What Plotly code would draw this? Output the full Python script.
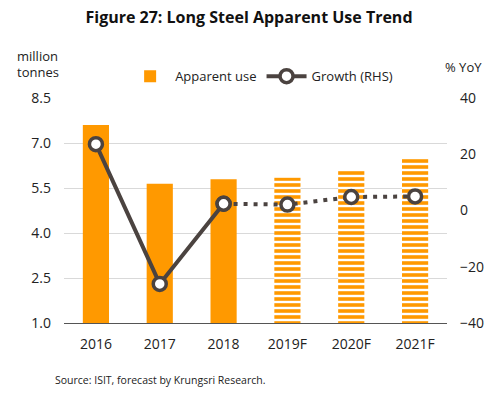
import plotly.graph_objects as go

categories = ["2016", "2017", "2018", "2019F", "2020F", "2021F"]
apparent_use = [7.6, 5.64, 5.79, 5.84, 6.08, 6.48]
growth = [23.6, -26.1, 2.4, 2.1, 4.8, 5.0]
forecast = [False, False, False, True, True, True]
left_ticks = [1.0, 2.5, 4.0, 5.5, 7.0, 8.5]
right_ticks = [-40, -20, 0, 20, 40]

ORANGE = "#FF9900"
DARK = "#4B4340"
FONT = "Open Sans"

fig = go.Figure()
fig.add_trace(go.Bar(
    x=categories, y=apparent_use, name="Apparent use",
    width=0.41,
    marker=dict(
        color=ORANGE, line=dict(width=0),
        pattern=dict(shape=["-" if f else "" for f in forecast],
                     fgcolor=ORANGE, bgcolor="white", fgopacity=1,
                     size=6, solidity=0.6, fillmode="replace"),
    ),
    yaxis="y",
))
actual_idx = [i for i, f in enumerate(forecast) if not f]
fc_idx = [actual_idx[-1]] + [i for i, f in enumerate(forecast) if f]
fig.add_trace(go.Scatter(
    x=[categories[i] for i in actual_idx], y=[growth[i] for i in actual_idx],
    name="Growth (RHS)", mode="lines+markers", yaxis="y2",
    line=dict(color=DARK, width=4),
    marker=dict(size=13, color="white", line=dict(color=DARK, width=3.5)),
))
fig.add_trace(go.Scatter(
    x=[categories[i] for i in fc_idx], y=[growth[i] for i in fc_idx],
    name="Growth (RHS)", mode="lines+markers", yaxis="y2", showlegend=False,
    line=dict(color=DARK, width=4, dash="4px,6px"),
    marker=dict(size=13, color="white", line=dict(color=DARK, width=3.5)),
))

fig.update_layout(
    width=498, height=395,
    margin=dict(l=64, r=51, t=98, b=72, autoexpand=False),
    paper_bgcolor="white", plot_bgcolor="white",
    font=dict(family=FONT, size=14, color="#222222"),
    title=dict(text="<b>Figure 27: Long Steel Apparent Use Trend</b>",
               x=0.5, xanchor="center", y=0.955, yanchor="middle",
               font=dict(size=16, color="#111111")),
    showlegend=True,
    legend=dict(orientation="h", x=0.516, xanchor="center", y=1.03, yanchor="bottom",
                font=dict(size=13), bgcolor="rgba(0,0,0,0)", traceorder="normal",
                itemwidth=40),
    bargap=0.5,
    xaxis=dict(type="category", showgrid=False, showline=True, linecolor="#555555",
               linewidth=1, ticks="", tickfont=dict(size=14), ticklabelstandoff=8),
    yaxis=dict(range=[1.0, 8.5], tickvals=left_ticks, ticktext=[f"{v:.1f}" for v in left_ticks],
               showgrid=True, gridcolor="#D9D9D9", gridwidth=1, zeroline=False,
               showline=False, tickfont=dict(size=14), ticks="", ticklabelstandoff=12),
    yaxis2=dict(range=[-40, 40], tickvals=right_ticks, overlaying="y", side="right",
                showgrid=False, zeroline=False, showline=False, tickfont=dict(size=14),
                ticks="", ticklabelstandoff=12),
)

fig.add_annotation(text="million", xref="paper", yref="paper",
                   x=-0.068, y=1.185, xanchor="center", yanchor="middle",
                   showarrow=False, font=dict(size=13))
fig.add_annotation(text="tonnes", xref="paper", yref="paper",
                   x=-0.068, y=1.117, xanchor="center", yanchor="middle",
                   showarrow=False, font=dict(size=13))
fig.add_annotation(text="% YoY", xref="paper", yref="paper",
                   x=1.042, y=1.138, xanchor="center", yanchor="middle",
                   showarrow=False, font=dict(size=13))
fig.add_annotation(text="Source: ISIT, forecast by Krungsri Research.", xref="paper", yref="paper",
                   x=-0.029, y=-0.253, xanchor="left", yanchor="middle",
                   showarrow=False, font=dict(size=10.5))

fig.write_html("out.html", config={"displayModeBar": False},
               post_script="document.body.style.margin='0';")
